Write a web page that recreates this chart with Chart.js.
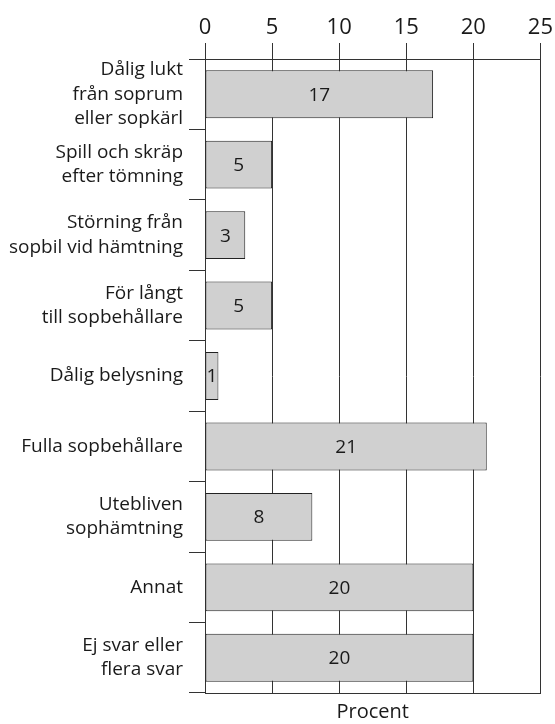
<!DOCTYPE html>
<html>
<head>
<meta charset="utf-8">
<script src="https://cdn.jsdelivr.net/npm/chart.js@4"></script>
<style>
  html, body { margin: 0; padding: 0; background: #fff; }
  #wrap { width: 555px; height: 724px; }
</style>
</head>
<body>
<div id="wrap"><canvas id="chart" width="555" height="724"></canvas></div>
<script>
// kategorier (flerradiga etiketter)
const categories = [
  ['Dålig lukt', 'från soprum', 'eller sopkärl'],
  ['Spill och skräp', 'efter tömning'],
  ['Störning från', 'sopbil vid hämtning'],
  ['För långt', 'till sopbehållare'],
  'Dålig belysning',
  'Fulla sopbehållare',
  ['Utebliven', 'sophämtning'],
  'Annat',
  ['Ej svar eller', 'flera svar']
];
const values = [17, 5, 3, 5, 1, 21, 8, 20, 20];
const xTicks = [0, 5, 10, 15, 20, 25];
const axisTitle = 'Procent';

const FONT = "'Open Sans', sans-serif";
const INK = '#1a1a1a';

// skriver värdet mitt i varje stapel
const barLabels = {
  id: 'barLabels',
  afterDatasetsDraw(chart) {
    const ctx = chart.ctx;
    const meta = chart.getDatasetMeta(0);
    ctx.save();
    ctx.font = '19px ' + FONT;
    ctx.fillStyle = INK;
    ctx.textAlign = 'center';
    ctx.textBaseline = 'middle';
    meta.data.forEach((bar, i) => {
      const cx = (bar.x + bar.base) / 2;
      ctx.fillText(String(values[i]), cx, bar.y + 1);
    });
    ctx.restore();
  }
};

new Chart(document.getElementById('chart'), {
  type: 'bar',
  data: {
    labels: categories,
    datasets: [{
      data: values,
      backgroundColor: '#d0d0d0',
      borderColor: '#222',
      borderWidth: 1,
      borderSkipped: false,
      categoryPercentage: 1,
      barPercentage: 0.68,
      xAxisID: 'x',
      yAxisID: 'y'
    }]
  },
  options: {
    indexAxis: 'y',
    responsive: false,
    animation: false,
    layout: { padding: { left: 0, right: 12, top: 0, bottom: 0 } },
    plugins: {
      legend: { display: false },
      tooltip: { enabled: false }
    },
    scales: {
      x: {
        type: 'linear',
        position: 'top',
        min: 0,
        max: 25,
        afterBuildTicks: scale => { scale.ticks = xTicks.map(v => ({ value: v })); },
        afterFit: scale => { scale.height = 59; },
        grid: { color: '#333', lineWidth: 1, tickLength: 16, drawTicks: true },
        border: { display: true, color: '#333', width: 1 },
        ticks: { color: INK, font: { family: FONT, size: 22 }, padding: 2, maxRotation: 0 }
      },
      x2: {
        type: 'linear',
        position: 'bottom',
        min: 0,
        max: 25,
        afterFit: scale => { scale.height = 31; },
        grid: { display: true, drawOnChartArea: false, drawTicks: false },
        border: { display: true, color: '#333', width: 1 },
        ticks: { display: false },
        title: { display: true, text: axisTitle, color: INK, font: { family: FONT, size: 20 }, padding: { top: 2, bottom: 0 } }
      },
      y: {
        type: 'category',
        position: 'left',
        afterFit: scale => {
          scale.width = 205;
          scale.paddingTop = 0;
          scale.paddingBottom = 0;
        },
        grid: { offset: true, drawOnChartArea: false, drawTicks: true, tickLength: 16, color: '#333' },
        border: { display: true, color: '#333', width: 1 },
        ticks: { color: INK, font: { family: FONT, size: 19, lineHeight: 1.27 }, padding: 6, autoSkip: false }
      }
    }
  },
  plugins: [barLabels]
});
</script>
</body>
</html>
